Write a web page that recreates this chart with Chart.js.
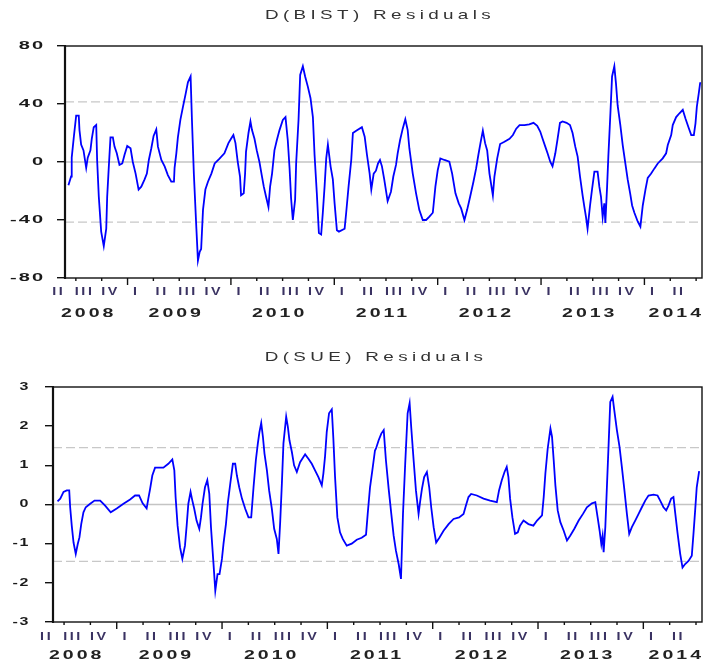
<!DOCTYPE html>
<html>
<head>
<meta charset="utf-8">
<script src="https://cdn.jsdelivr.net/npm/chart.js@4.4.1/dist/chart.umd.min.js"></script>
<style>
  html, body { margin: 0; padding: 0; background: #fff; }
  #wrap { position: relative; width: 704px; height: 668px; }
  .panel { position: absolute; left: 0; width: 704px; height: 334px; }
</style>
</head>
<body>
<div id="wrap">
  <div class="panel" style="top:0"><canvas id="bistChart" width="704" height="334"></canvas></div>
  <div class="panel" style="top:334px"><canvas id="sueChart" width="704" height="334"></canvas></div>
</div>
<script>
// time axis (decimal years) and labels
var yearLabels = ['2008', '2009', '2010', '2011', '2012', '2013', '2014'];
var quarterLabels = ['I', 'II', 'III', 'IV'];
var timeMin = 2008.395;
var timeMax = 2014.557;

// D(BIST) residuals
var bistTime = [
  2008.428, 2008.454, 2008.460, 2008.480, 2008.503, 2008.528, 2008.535, 2008.551, 2008.574, 2008.600,
  2008.615, 2008.641, 2008.654, 2008.673, 2008.697, 2008.706, 2008.722, 2008.745, 2008.770, 2008.794,
  2008.803, 2008.819, 2008.835, 2008.858, 2008.874, 2008.896, 2008.922, 2008.949, 2008.971, 2008.997,
  2009.029, 2009.051, 2009.078, 2009.107, 2009.133, 2009.165, 2009.187, 2009.206, 2009.230, 2009.252,
  2009.278, 2009.294, 2009.327, 2009.359, 2009.390, 2009.423, 2009.449, 2009.455, 2009.472, 2009.487,
  2009.511, 2009.536, 2009.562, 2009.584, 2009.610, 2009.623, 2009.642, 2009.666, 2009.681, 2009.698,
  2009.712, 2009.730, 2009.753, 2009.778, 2009.811, 2009.843, 2009.885, 2009.937, 2009.976,
  2010.001, 2010.024, 2010.044, 2010.066, 2010.088, 2010.098, 2010.124, 2010.137, 2010.146, 2010.170,
  2010.189, 2010.204, 2010.228, 2010.250, 2010.276, 2010.298, 2010.318, 2010.340, 2010.363, 2010.379,
  2010.398, 2010.421, 2010.444, 2010.470, 2010.502, 2010.528, 2010.550, 2010.567, 2010.582, 2010.599,
  2010.621, 2010.631, 2010.654, 2010.670, 2010.696, 2010.718, 2010.744, 2010.770, 2010.793, 2010.809,
  2010.831, 2010.851, 2010.873, 2010.889, 2010.906, 2010.922, 2010.938, 2010.964, 2010.986,
  2011.003, 2011.025, 2011.045, 2011.100, 2011.115, 2011.138, 2011.164, 2011.180, 2011.212, 2011.267,
  2011.294, 2011.316, 2011.342, 2011.358, 2011.381, 2011.403, 2011.423, 2011.442, 2011.461, 2011.483,
  2011.516, 2011.548, 2011.571, 2011.597, 2011.613, 2011.636, 2011.662, 2011.687, 2011.710, 2011.726,
  2011.759, 2011.791, 2011.822, 2011.856, 2011.888, 2011.920, 2011.953, 2011.978,
  2012.001, 2012.026, 2012.065, 2012.113, 2012.140, 2012.172, 2012.204, 2012.227, 2012.259, 2012.285,
  2012.314, 2012.346, 2012.372, 2012.394, 2012.414, 2012.437, 2012.459, 2012.479, 2012.501, 2012.534,
  2012.549, 2012.576, 2012.604, 2012.646, 2012.695, 2012.728, 2012.760, 2012.792, 2012.840, 2012.886,
  2012.927, 2012.963, 2012.992,
  2013.015, 2013.041, 2013.063, 2013.089, 2013.111, 2013.138, 2013.160, 2013.183, 2013.208, 2013.247,
  2013.280, 2013.305, 2013.331, 2013.354, 2013.377, 2013.402, 2013.419, 2013.435, 2013.450, 2013.474,
  2013.493, 2013.516, 2013.547, 2013.564, 2013.580, 2013.596, 2013.612, 2013.622, 2013.639, 2013.651,
  2013.671, 2013.687, 2013.709, 2013.725, 2013.741, 2013.767, 2013.790, 2013.813, 2013.838, 2013.862,
  2013.881, 2013.903, 2013.935, 2013.961, 2013.984,
  2014.010, 2014.032, 2014.065, 2014.097, 2014.129, 2014.177, 2014.210, 2014.226, 2014.259, 2014.274,
  2014.307, 2014.339, 2014.371, 2014.397, 2014.426, 2014.453, 2014.478, 2014.494, 2014.507, 2014.525,
  2014.540
];
var bistResid = [
  -16, -10, 3, 17, 32, 32, 22, 12, 8, -4,
  3, 8, 16, 24, 25.5, 1, -24, -48, -58, -46,
  -24, -3, 17, 17, 10.6, 6, -2, -1, 5, 11,
  9.4, 0, -8, -19, -17, -12, -8, 1.4, 9.5, 18,
  22.5, 10.6, 1.4, -3, -9, -13.6, -13.6, -4, 6, 17,
  29, 38, 47, 55, 59, 29, -9, -46, -68, -62,
  -60, -33, -19, -13.6, -8, -1, 2, 6, 13,
  16, 18.6, 13, 0, -10, -23, -21.6, -8, 7, 20,
  28, 22, 16, 8, 0, -9, -17, -24, -31, -17,
  -8, 8, 15, 22, 29, 31, 15, -4, -25, -40,
  -26, -1, 29, 60, 66, 59, 52, 44, 31, 5,
  -21.6, -49, -50, -35, -17, 2.5, 12, -3, -12,
  -28.5, -47, -48, -46, -35, -17, 1.4, 20, 21.6, 24,
  17.5, 5, -8, -19, -8, -6, -1, 1.4, -3, -12,
  -27, -20.5, -10, -2, 6, 15, 23, 29.5, 22, 9.5,
  -8, -21.6, -33, -40, -40, -37.7, -35, -17,
  -5.5, 2.5, 1.4, 0.2, -8, -21.6, -28.5, -32, -40, -33,
  -24, -13.6, -4.4, 5, 13, 21.6, 13, 8, -8, -23,
  -10, 2.5, 12.4, 14, 16, 18.6, 23, 25.5, 25.5, 26,
  27, 25, 21,
  16, 10.6, 6, 0.2, -3, 6, 16, 27, 28, 27,
  25.5, 20, 10.6, 3.7, -10, -23, -31, -38, -46, -30,
  -19, -6.7, -6.7, -17, -24, -38, -28.5, -42, -17, 3.7,
  33.6, 59, 66, 54, 39, 25.5, 11.7, 0.2, -12, -21.6,
  -30, -35, -41, -44.6, -30,
  -19, -11, -8, -4.4, -1, 2.5, 6, 11.7, 18.6, 25.5,
  31, 33.6, 36, 30, 24, 18.6, 18.6, 26.7, 38, 47,
  55
];
var bistBand = 41.4;

// D(SUE) residuals
var sueTime = [
  2008.438, 2008.464, 2008.495, 2008.526, 2008.549, 2008.558, 2008.573, 2008.590, 2008.611, 2008.630,
  2008.646, 2008.663, 2008.684, 2008.706, 2008.748, 2008.789, 2008.843, 2008.890, 2008.943,
  2009.000, 2009.064, 2009.127, 2009.174, 2009.212, 2009.246, 2009.284, 2009.300, 2009.317, 2009.338,
  2009.364, 2009.443, 2009.490, 2009.528, 2009.547, 2009.559, 2009.578, 2009.601, 2009.623, 2009.648,
  2009.664, 2009.680, 2009.701, 2009.718, 2009.736, 2009.758, 2009.784, 2009.800, 2009.815, 2009.838,
  2009.860, 2009.879, 2009.895, 2009.917, 2009.936, 2009.957, 2009.976, 2009.999,
  2010.014, 2010.037, 2010.056, 2010.078, 2010.103, 2010.125, 2010.141, 2010.163, 2010.189, 2010.220,
  2010.251, 2010.277, 2010.299, 2010.321, 2010.340, 2010.355, 2010.372, 2010.388, 2010.403, 2010.426,
  2010.447, 2010.473, 2010.495, 2010.520, 2010.536, 2010.552, 2010.568, 2010.583, 2010.609, 2010.625,
  2010.640, 2010.663, 2010.684, 2010.710, 2010.741, 2010.789, 2010.820, 2010.852, 2010.883, 2010.915,
  2010.947, 2010.962, 2010.978, 2010.994,
  2011.016, 2011.042, 2011.057, 2011.073, 2011.095, 2011.120, 2011.146, 2011.184, 2011.231, 2011.279,
  2011.326, 2011.367, 2011.383, 2011.405, 2011.427, 2011.452, 2011.462, 2011.487, 2011.512, 2011.535,
  2011.556, 2011.582, 2011.607, 2011.629, 2011.651, 2011.677, 2011.699, 2011.718, 2011.739, 2011.762,
  2011.781, 2011.796, 2011.819, 2011.841, 2011.866, 2011.882, 2011.898, 2011.919, 2011.945, 2011.967,
  2011.986,
  2012.009, 2012.033, 2012.065, 2012.103, 2012.151, 2012.198, 2012.251, 2012.293, 2012.315, 2012.340,
  2012.365, 2012.419, 2012.483, 2012.545, 2012.609, 2012.630, 2012.656, 2012.682, 2012.703, 2012.719,
  2012.735, 2012.757, 2012.782, 2012.808, 2012.829, 2012.862, 2012.909, 2012.956, 2012.991,
  2013.038, 2013.054, 2013.070, 2013.092, 2013.118, 2013.133, 2013.149, 2013.165, 2013.187, 2013.212,
  2013.244, 2013.275, 2013.307, 2013.345, 2013.386, 2013.427, 2013.464, 2013.512, 2013.544, 2013.566,
  2013.585, 2013.601, 2013.613, 2013.623, 2013.639, 2013.654, 2013.670, 2013.686, 2013.708, 2013.724,
  2013.749, 2013.774, 2013.796, 2013.819, 2013.844, 2013.866, 2013.891, 2013.923, 2013.955, 2013.986,
  2014.018, 2014.049, 2014.097, 2014.135, 2014.160, 2014.191, 2014.217, 2014.239, 2014.264, 2014.286,
  2014.302, 2014.324, 2014.350, 2014.372, 2014.397, 2014.429, 2014.460, 2014.476, 2014.492, 2014.507,
  2014.530
];
var sueResid = [
  0.08, 0.15, 0.32, 0.36, 0.36, -0.07, -0.54, -0.97, -1.26, -1.01,
  -0.84, -0.5, -0.2, -0.07, 0.02, 0.1, 0.1, -0.03, -0.2,
  -0.1, 0.02, 0.13, 0.23, 0.23, 0.03, -0.1, 0.15, 0.4, 0.74,
  0.94, 0.94, 1.04, 1.15, 0.87, 0.19, -0.54, -1.09, -1.39, -1.05,
  -0.54, 0.02, 0.32, 0.1, -0.11, -0.41, -0.62, -0.33, 0.02, 0.44,
  0.62, 0.27, -0.58, -1.44, -2.2, -1.78, -1.78, -1.39,
  -1.0, -0.5, 0.06, 0.53, 1.04, 1.04, 0.74, 0.44, 0.15, -0.11,
  -0.33, -0.33, 0.44, 1.13, 1.56, 1.85, 2.08, 1.73, 1.3, 0.87,
  0.36, -0.11, -0.62, -0.88, -1.26, -0.45, 0.53, 1.56, 2.24, 1.98,
  1.64, 1.34, 1.0, 0.83, 1.08, 1.28, 1.17, 1.04, 0.87, 0.7,
  0.49, 0.79, 1.23, 1.85,
  2.33, 2.43, 1.68, 0.7, -0.33, -0.71, -0.88, -1.05, -1.0, -0.9,
  -0.85, -0.77, -0.24, 0.44, 0.87, 1.38, 1.43, 1.64, 1.81, 1.9,
  1.13, 0.4, -0.24, -0.79, -1.18, -1.52, -1.9, -0.24, 1.04, 2.33,
  2.59, 1.98, 1.13, 0.36, -0.24, 0.1, 0.4, 0.7, 0.83, 0.44,
  -0.07,
  -0.58, -0.97, -0.84, -0.67, -0.5, -0.37, -0.33, -0.24, -0.03, 0.19,
  0.27, 0.23, 0.15, 0.1, 0.06, 0.36, 0.62, 0.83, 0.96, 0.7,
  0.15, -0.33, -0.75, -0.71, -0.54, -0.41, -0.5, -0.54, -0.41,
  -0.28, 0.19, 0.79, 1.43, 1.94, 1.73, 1.13, 0.49, -0.15, -0.45,
  -0.67, -0.92, -0.79, -0.62, -0.41, -0.24, -0.07, 0.03, 0.06, -0.33,
  -0.67, -1.01, -0.8, -1.22, -0.58, 0.44, 1.51, 2.62, 2.75, 2.41,
  1.9, 1.47, 0.96, 0.4, -0.24, -0.75, -0.58, -0.41, -0.24, -0.07,
  0.1, 0.23, 0.25, 0.23, 0.1, -0.07, -0.15, -0.03, 0.15, 0.19,
  -0.2, -0.71, -1.26, -1.61, -1.52, -1.44, -1.31, -0.75, -0.15, 0.44,
  0.85
];
var sueBand = 1.45;

if (bistTime.length != bistResid.length) throw new Error('bist length ' + bistTime.length + ' vs ' + bistResid.length);
if (sueTime.length != sueResid.length) throw new Error('sue length ' + sueTime.length + ' vs ' + sueResid.length);

function toPoints(xs, ys) {
    return xs.map(function (x, i) { return { x: x, y: ys[i] }; });
}

// draws text squeezed/stretched horizontally like the old EViews export
function wideText(ctx, text, x, y, sx, align) {
    var w = ctx.measureText(text).width * sx;
    var left = align == 'right' ? x - w : (align == 'center' ? x - w / 2 : x);
    ctx.save();
    ctx.translate(left, y);
    ctx.scale(sx, 1);
    ctx.textAlign = 'left';
    ctx.fillText(text, 0, 0);
    ctx.restore();
    return w;
}

// frame, date axis, y labels and title
var evAxes = {
    id: 'evAxes',
    afterDraw: function (chart, args, o) {
        var ctx = chart.ctx, a = chart.chartArea;
        var xs = chart.scales.x, ys = chart.scales.y;
        ctx.save();

        //frame
        ctx.strokeStyle = '#111';
        ctx.lineWidth = 1.4;
        ctx.strokeRect(a.left, a.top, a.right - a.left, a.bottom - a.top);
        ctx.lineWidth = 2.2;
        ctx.beginPath();
        ctx.moveTo(a.left, a.top);
        ctx.lineTo(a.left, a.bottom + 1);
        ctx.stroke();

        //quarter and year ticks
        ctx.lineWidth = 1.4;
        for (var yi = 0; yi < yearLabels.length + 1; yi++) {
            for (var q = 0; q < 4; q++) {
                var t = 2008 + yi + q / 4;
                if (t < xs.min || t > xs.max) continue;
                var px = xs.getPixelForValue(t);
                ctx.beginPath();
                ctx.moveTo(px, a.bottom);
                ctx.lineTo(px, a.bottom + (q == 0 ? 7 : 3));
                ctx.stroke();
            }
        }

        //quarter labels
        ctx.textBaseline = 'middle';
        ctx.letterSpacing = '2px';
        ctx.font = 'bold 11px "Liberation Sans", Arial, sans-serif';
        ctx.fillStyle = '#3a3262';
        yearLabels.forEach(function (yl, yi) {
            for (var q = 0; q < 4; q++) {
                var t0 = 2008 + yi + q / 4;
                if (t0 + 0.25 < xs.min || t0 > xs.max) continue;
                var px = xs.getPixelForValue(t0 + 0.085);
                if (px > a.right - 4) continue;
                wideText(ctx, quarterLabels[q], px, a.bottom + o.qGap, 1.3, 'center');
            }
        });

        //year labels
        ctx.font = 'bold 13px "Liberation Sans", Arial, sans-serif';
        ctx.fillStyle = '#222';
        yearLabels.forEach(function (yl, yi) {
            var sx = 1.5;
            var w = ctx.measureText(yl).width * sx;
            var cx = xs.getPixelForValue(2008 + yi + 0.5) - 3;
            if (cx - w / 2 < a.left - 4) cx = a.left - 4 + w / 2;
            if (cx + w / 2 > a.right + 2) cx = a.right + 2 - w / 2;
            wideText(ctx, yl, cx, a.bottom + o.yearGap, sx, 'center');
        });

        //y tick labels
        ctx.letterSpacing = '1px';
        ctx.font = 'bold 10px "Liberation Sans", Arial, sans-serif';
        ctx.fillStyle = '#1a1a1a';
        ys.ticks.forEach(function (tk) {
            var py = ys.getPixelForValue(tk.value);
            wideText(ctx, String(tk.value), a.left - o.labelGap, py, o.labelSx, 'right');
        });

        //title
        ctx.letterSpacing = '3px';
        ctx.font = '13px "Liberation Sans", Arial, sans-serif';
        ctx.fillStyle = '#333';
        wideText(ctx, o.title, o.titleX, o.titleY, 1.45, 'center');

        ctx.restore();
    }
};

function residChart(canvasId, times, values, band, yMin, yMax, step, pane) {
    var ctx = document.getElementById(canvasId).getContext('2d');
    return new Chart(ctx, {
        type: 'line',
        data: {
            datasets: [
                {
                    data: toPoints(times, values),
                    borderColor: '#0000ff',
                    borderWidth: 1.8,
                    pointRadius: 0,
                    tension: 0,
                    order: 0
                },
                {
                    data: [{ x: timeMin, y: 0 }, { x: timeMax, y: 0 }],
                    borderColor: '#c4c4c4',
                    borderWidth: 1.3,
                    pointRadius: 0,
                    order: 2
                },
                {
                    data: [{ x: timeMin, y: band }, { x: timeMax, y: band }],
                    borderColor: '#c8c8c8',
                    borderWidth: 1.3,
                    borderDash: [9, 4],
                    pointRadius: 0,
                    order: 2
                },
                {
                    data: [{ x: timeMin, y: -band }, { x: timeMax, y: -band }],
                    borderColor: '#c8c8c8',
                    borderWidth: 1.3,
                    borderDash: [9, 4],
                    pointRadius: 0,
                    order: 2
                }
            ]
        },
        options: {
            responsive: false,
            animation: false,
            devicePixelRatio: 1,
            layout: { padding: pane.padding },
            scales: {
                x: { type: 'linear', display: false, min: timeMin, max: timeMax },
                y: {
                    min: yMin,
                    max: yMax,
                    afterFit: function (scale) { scale.width = pane.axisWidth; },
                    ticks: { stepSize: step, color: 'rgba(0,0,0,0)', font: { size: 10 } },
                    grid: { drawOnChartArea: false, drawTicks: true, tickLength: 8, color: '#111', lineWidth: 1.4 },
                    border: { display: true, color: '#111', width: 2 }
                }
            },
            plugins: {
                legend: { display: false },
                tooltip: { enabled: false },
                evAxes: pane.axes
            }
        },
        plugins: [evAxes]
    });
}

residChart('bistChart', bistTime, bistResid, bistBand, -80, 80, 40, {
    padding: { top: 46, bottom: 56, left: 0, right: 2 },
    axisWidth: 65,
    axes: { title: 'D(BIST) Residuals', titleX: 380, titleY: 15, qGap: 14, yearGap: 35, labelGap: 20, labelSx: 2.0 }
});

residChart('sueChart', sueTime, sueResid, sueBand, -3, 3, 1, {
    padding: { top: 53, bottom: 46, left: 0, right: 2 },
    axisWidth: 53,
    axes: { title: 'D(SUE) Residuals', titleX: 376, titleY: 23, qGap: 15, yearGap: 33, labelGap: 23, labelSx: 1.6 }
});
</script>
</body>
</html>
